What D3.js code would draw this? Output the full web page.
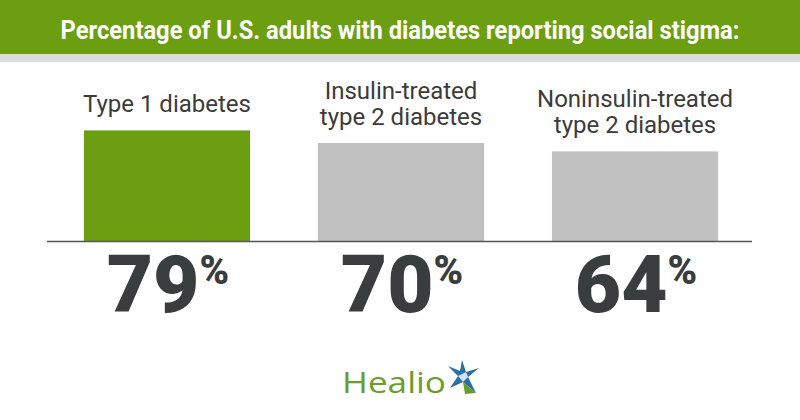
<!DOCTYPE html>
<html><head><meta charset="utf-8">
<script src="https://cdn.jsdelivr.net/npm/d3@7"></script>
<style>body{margin:0;background:#fff}svg{display:block}</style>
</head><body>
<script>
const categories = ["Type 1 diabetes", "Insulin-treated type 2 diabetes", "Noninsulin-treated type 2 diabetes"];
const labelLines = [["Type 1 diabetes"], ["Insulin-treated", "type 2 diabetes"], ["Noninsulin-treated", "type 2 diabetes"]];
const values = [79, 70, 64];
const barColors = ["#6b9e10", "#c0c0c0", "#c0c0c0"];
const title = "Percentage of U.S. adults with diabetes reporting social stigma:";

const W = 800, H = 420;
const svg = d3.select("body").append("svg").attr("width", W).attr("height", H);

// header
svg.append("rect").attr("x", 0).attr("y", 0).attr("width", W).attr("height", 54).attr("fill", "#6b9e10");
svg.append("rect").attr("x", 0).attr("y", 54).attr("width", W).attr("height", 8).attr("fill", "#dcdcdc");
svg.append("text").attr("x", 400).attr("y", 39).attr("text-anchor", "middle")
  .attr("font-family", "Roboto").attr("font-weight", 700).attr("font-size", 25)
  .attr("fill", "#fff").attr("textLength", 679).attr("lengthAdjust", "spacingAndGlyphs")
  .text(title);

const x = d3.scaleBand().domain(categories).range([49, 753]).paddingInner(0.29).paddingOuter(0.149);
const y = d3.scaleLinear().domain([0, 100]).range([241, 101]);

const g = svg.append("g");
g.selectAll("rect.bar").data(values).join("rect").attr("class", "bar")
  .attr("x", (d, i) => x(categories[i]))
  .attr("y", d => y(d))
  .attr("width", x.bandwidth())
  .attr("height", d => y(0) - y(d))
  .attr("fill", (d, i) => barColors[i]);

// baseline
svg.append("line").attr("x1", 47).attr("x2", 752).attr("y1", y(0) + 0.5).attr("y2", y(0) + 0.5)
  .attr("stroke", "#555").attr("stroke-width", 1.3);

// category labels
categories.forEach((c, i) => {
  const cx = x(c) + x.bandwidth() / 2;
  const lines = labelLines[i];
  const t = svg.append("text").attr("text-anchor", "middle")
    .attr("font-family", "Roboto").attr("font-size", 24).attr("fill", "#3b3b3b");
  lines.forEach((l, j) => {
    t.append("tspan").attr("x", cx)
      .attr("y", y(values[i]) - 18 - (lines.length - 1 - j) * 26.5)
      .text(l);
  });
});

// values
categories.forEach((c, i) => {
  const cx = x(c) + x.bandwidth() / 2;
  const t = svg.append("text").attr("text-anchor", "middle").attr("x", cx + 1).attr("y", 312)
    .attr("font-family", "Roboto").attr("font-weight", 900).attr("fill", "#393d3d");
  t.append("tspan").attr("font-size", 80).text(values[i]);
  t.append("tspan").attr("font-size", 40).attr("dy", -28).attr("dx", 0).text("%");
});

// Healio logo
const logo = svg.append("g");
logo.append("text").attr("x", 342).attr("y", 393)
  .attr("font-family", "Open Sans").attr("font-size", 30).attr("fill", "#6a9e2a")
  .attr("textLength", 104).attr("lengthAdjust", "spacingAndGlyphs").text("Healio");
const sx = 462, sy = 376;
logo.append("path")
  .attr("d", `M${sx},${sy-16} L${sx+4},${sy-4} L${sx+17},${sy-8} L${sx+6},${sy+1} L${sx+14},${sy+17} L${sx+1},${sy+6} L${sx-12},${sy+12} L${sx-4},${sy} L${sx-14},${sy-10} L${sx-2},${sy-5} Z`)
  .attr("fill", "#2b6ea8");
logo.append("path")
  .attr("d", `M${sx+1},${sy+6} L${sx+14},${sy+17} L${sx+3},${sy+18} Z`)
  .attr("fill", "#6a9e2a");
logo.append("path")
  .attr("d", `M${sx-4},${sy} L${sx+1},${sy+6} L${sx+6},${sy+1} L${sx+4},${sy-4} Z`)
  .attr("fill", "#fff").attr("opacity", 0.8);
</script>
</body></html>
